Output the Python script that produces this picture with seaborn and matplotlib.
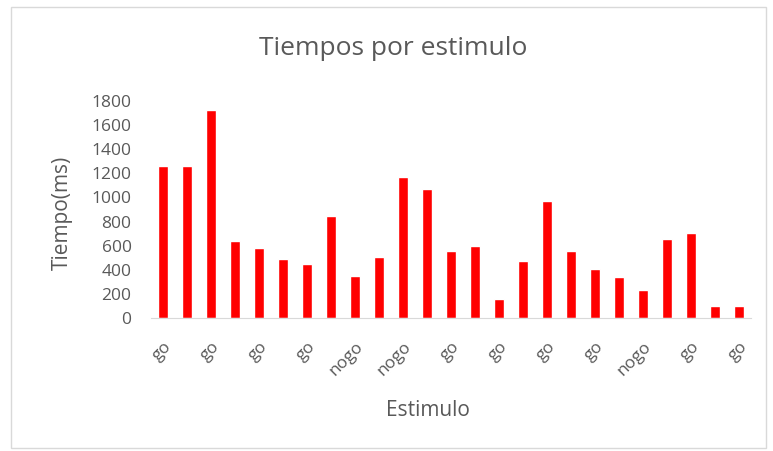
import matplotlib
matplotlib.use("Agg")
import matplotlib.pyplot as plt
import seaborn as sns
import pandas as pd

# tiempos de respuesta por estimulo (ms)
tiempos = [1260, 1260, 1724, 638, 578, 489, 448, 846, 348, 508, 1172, 1067, 558,
           597, 155, 475, 973, 558, 409, 337, 232, 655, 707, 99, 99]
# etiquetas visibles (una de cada dos barras)
etiquetas = ["go", "go", "go", "go", "nogo", "nogo", "go", "go", "go", "go",
             "nogo", "go", "go"]
yticks = [0, 200, 400, 600, 800, 1000, 1200, 1400, 1600, 1800]

sns.set_style("white")
plt.rcParams['font.family'] = ['Open Sans', 'DejaVu Sans']

df = pd.DataFrame({"idx": range(len(tiempos)), "tiempo": tiempos})

W, H = 773, 451
fig = plt.figure(figsize=(W / 100, H / 100), dpi=100)
ax = fig.add_axes([151 / W, 1 - 318 / H, 600 / W, 217 / H])
sns.barplot(data=df, x="idx", y="tiempo", color="#ff0000", width=0.42,
            saturation=1, ax=ax)

gris = "#595959"
ax.set_ylim(0, 1800)
ax.set_yticks(yticks)
ax.set_yticklabels([str(v) for v in yticks], color=gris, fontsize=12.5)
ax.set_xticks(range(0, len(tiempos), 2))
ax.set_xticklabels(etiquetas, rotation=45, ha="right", rotation_mode="anchor",
                   color=gris, fontsize=12.5)
ax.tick_params(axis="x", length=0, pad=15)
ax.tick_params(axis="y", length=0, pad=14)
for s in ["top", "right", "left"]:
    ax.spines[s].set_visible(False)
ax.spines["bottom"].set_color("#d9d9d9")

ax.set_xlabel("Estimulo", color=gris, fontsize=15)
ax.xaxis.set_label_coords((428 - 151) / 600, (318 - 411) / 217)
ax.xaxis.label.set_va("center")
ax.set_ylabel("Tiempo(ms)", color=gris, fontsize=15)
ax.yaxis.set_label_coords((62 - 151) / 600, (318 - 213) / 217)
ax.yaxis.label.set_va("center")

fig.text(393 / W, 1 - 55 / H, "Tiempos por estimulo", color=gris, fontsize=19,
         ha="center", va="baseline")

# borde del grafico
fig.patches.append(plt.Rectangle((10.5 / W, 1 - 447.5 / H), 755 / W, 441 / H,
                                 transform=fig.transFigure, fill=False,
                                 edgecolor="#d9d9d9", linewidth=1))

fig.savefig("out.png", dpi=100)
